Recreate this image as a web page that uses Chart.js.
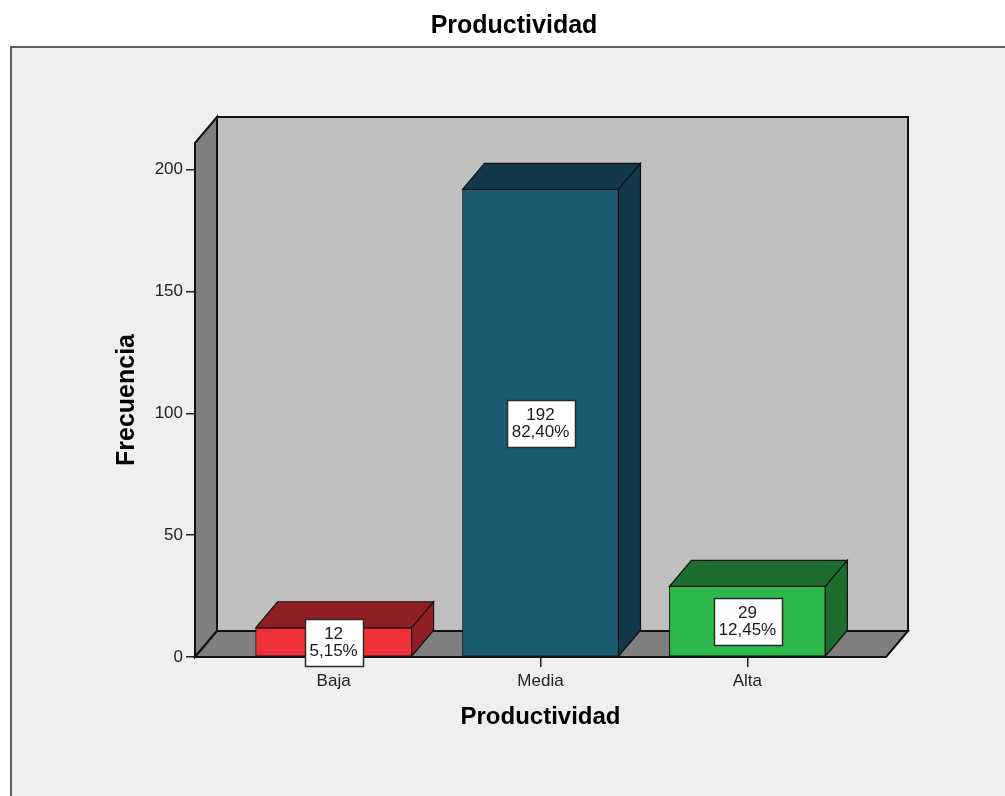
<!DOCTYPE html>
<html>
<head>
<meta charset="utf-8">
<script src="https://cdn.jsdelivr.net/npm/chart.js@4.4.0/dist/chart.umd.min.js"></script>
<style>
  html, body { margin: 0; padding: 0; background: #ffffff; }
  canvas { display: block; }
</style>
</head>
<body>
<canvas id="chart" width="1005" height="796"></canvas>
<script>
// Frequency table for "Productividad"
const CATEGORIES = ['Baja', 'Media', 'Alta'];
const FREQUENCIES = [12, 192, 29];
const Y_TICKS = [0, 50, 100, 150, 200];
const CHART_TITLE = 'Productividad';
const Y_TITLE = 'Frecuencia';
const X_TITLE = 'Productividad';

// Bar colours: front face and the darker top / side faces
const FRONT_COLORS = ['#ef3239', '#1c5c73', '#2cb84a'];
const SHADE_COLORS = ['#8f1f24', '#12394a', '#1d6d2e'];

const FONT = '"Liberation Sans", Arial, sans-serif';
const DEPTH_X = 22;   // 3D depth offset (px)
const DEPTH_Y = -26;

const total = FREQUENCIES.reduce((a, b) => a + b, 0);
const percentText = FREQUENCIES.map(v => (v / total * 100).toFixed(2).replace('.', ',') + '%');

function poly(ctx, pts, fill, stroke, lw) {
  ctx.beginPath();
  ctx.moveTo(pts[0][0], pts[0][1]);
  for (let i = 1; i < pts.length; i++) ctx.lineTo(pts[i][0], pts[i][1]);
  ctx.closePath();
  if (fill) { ctx.fillStyle = fill; ctx.fill(); }
  if (stroke) { ctx.strokeStyle = stroke; ctx.lineWidth = lw || 1; ctx.lineJoin = 'miter'; ctx.stroke(); }
}

// Light panel with a grey frame behind the whole chart
const panelPlugin = {
  id: 'panel',
  beforeDraw(chart) {
    const ctx = chart.ctx;
    ctx.save();
    ctx.fillStyle = '#ffffff';
    ctx.fillRect(0, 0, chart.width, chart.height);
    ctx.fillStyle = '#efefef';
    ctx.fillRect(11, 47, chart.width, chart.height);
    ctx.strokeStyle = '#5e5e5e';
    ctx.lineWidth = 2;
    ctx.beginPath();
    ctx.moveTo(11, chart.height + 5);
    ctx.lineTo(11, 47);
    ctx.lineTo(chart.width + 5, 47);
    ctx.stroke();
    ctx.restore();
  }
};

// Back wall, side wall and floor of the 3D box
const wallsPlugin = {
  id: 'walls',
  beforeDatasetsDraw(chart) {
    const { left, right, top, bottom } = chart.chartArea;
    const ctx = chart.ctx;
    const dx = DEPTH_X, dy = DEPTH_Y;
    ctx.save();
    poly(ctx, [[left + dx, top + dy], [right + dx, top + dy], [right + dx, bottom + dy], [left + dx, bottom + dy]], '#c0c0c0', '#111', 2);
    poly(ctx, [[left, top], [left + dx, top + dy], [left + dx, bottom + dy], [left, bottom]], '#7f7f7f', '#111', 2);
    poly(ctx, [[left, bottom], [left + dx, bottom + dy], [right + dx, bottom + dy], [right, bottom]], '#7f7f7f', '#111', 2);
    ctx.restore();
  }
};

// Top and side faces of each bar, then the value boxes
const bars3dPlugin = {
  id: 'bars3d',
  afterDatasetsDraw(chart) {
    const ctx = chart.ctx;
    const meta = chart.getDatasetMeta(0);
    const dx = DEPTH_X, dy = DEPTH_Y;
    ctx.save();
    meta.data.forEach((bar, i) => {
      const { x, y, base, width } = bar.getProps(['x', 'y', 'base', 'width'], true);
      const l = x - width / 2, r = x + width / 2;
      poly(ctx, [[l, y], [l + dx, y + dy], [r + dx, y + dy], [r, y]], SHADE_COLORS[i], '#111', 1.2);
      poly(ctx, [[r, y], [r + dx, y + dy], [r + dx, base + dy], [r, base]], SHADE_COLORS[i], '#111', 1.2);
    });
    // value labels
    ctx.font = '17px ' + FONT;
    ctx.textAlign = 'center';
    ctx.textBaseline = 'alphabetic';
    meta.data.forEach((bar, i) => {
      const { x, y, base } = bar.getProps(['x', 'y', 'base'], true);
      const cy = (y + base) / 2;
      const l1 = String(FREQUENCIES[i]);
      const l2 = percentText[i];
      const w = Math.max(ctx.measureText(l1).width, ctx.measureText(l2).width) + 10;
      const bx = Math.round(x - w / 2) + 0.5;
      const by = Math.round(cy - 23) + 0.5;
      ctx.fillStyle = '#ffffff';
      ctx.fillRect(bx, by, Math.round(w), 47);
      ctx.strokeStyle = '#2a2a2a';
      ctx.lineWidth = 1.5;
      ctx.strokeRect(bx, by, Math.round(w), 47);
      ctx.fillStyle = '#1a1a1a';
      ctx.fillText(l1, x, cy - 3);
      ctx.fillText(l2, x, cy + 14);
    });
    ctx.restore();
  }
};

new Chart(document.getElementById('chart'), {
  type: 'bar',
  data: {
    datasets: [{
      data: FREQUENCIES.map((v, i) => ({ x: i, y: v })),
      backgroundColor: FRONT_COLORS,
      borderColor: '#111',
      borderWidth: 1,
      borderSkipped: false,
      barThickness: 156
    }]
  },
  plugins: [panelPlugin, wallsPlugin, bars3dPlugin],
  options: {
    responsive: false,
    animation: false,
    devicePixelRatio: 1,
    layout: { padding: { left: 23, right: 0, top: 0, bottom: 0 } },
    plugins: {
      legend: { display: false },
      tooltip: { enabled: false },
      title: {
        display: true,
        text: CHART_TITLE,
        color: '#000',
        font: { family: FONT, size: 25, weight: 'bold' },
        padding: { top: 11, bottom: 102 }
      }
    },
    scales: {
      x: {
        type: 'linear',
        offset: false,
        min: -0.67,
        max: 2.67,
        afterBuildTicks(scale) { scale.ticks = CATEGORIES.map((c, i) => ({ value: i })); },
        afterFit(scale) { scale.height = 139; },
        ticks: {
          callback: (v) => CATEGORIES[v],
          color: '#222',
          font: { family: FONT, size: 17 },
          padding: 4,
          maxRotation: 0,
          autoSkip: false
        },
        grid: { offset: false, drawOnChartArea: false, drawTicks: true, tickLength: 10, color: '#222', lineWidth: 1.5 },
        border: { display: false },
        title: {
          display: true,
          text: X_TITLE,
          color: '#000',
          font: { family: FONT, size: 24, weight: 'bold' },
          padding: { top: 0, bottom: 64 }
        }
      },
      y: {
        min: 0,
        max: 211,
        afterBuildTicks(scale) { scale.ticks = Y_TICKS.map(v => ({ value: v })); },
        afterFit(scale) { scale.width = 172; },
        ticks: {
          color: '#222',
          font: { family: FONT, size: 17 },
          padding: 3
        },
        grid: { drawOnChartArea: false, drawTicks: true, tickLength: 9, color: '#222', lineWidth: 1.5 },
        border: { display: false },
        title: {
          display: true,
          text: Y_TITLE,
          color: '#000',
          font: { family: FONT, size: 25, weight: 'bold' },
          padding: { top: 89, bottom: 0 }
        }
      },
      // empty right-hand margin beside the 3D box
      margin: {
        type: 'linear',
        position: 'right',
        afterFit(scale) { scale.width = 119; },
        ticks: { display: false },
        grid: { display: false },
        border: { display: false }
      }
    }
  }
});
</script>
</body>
</html>
